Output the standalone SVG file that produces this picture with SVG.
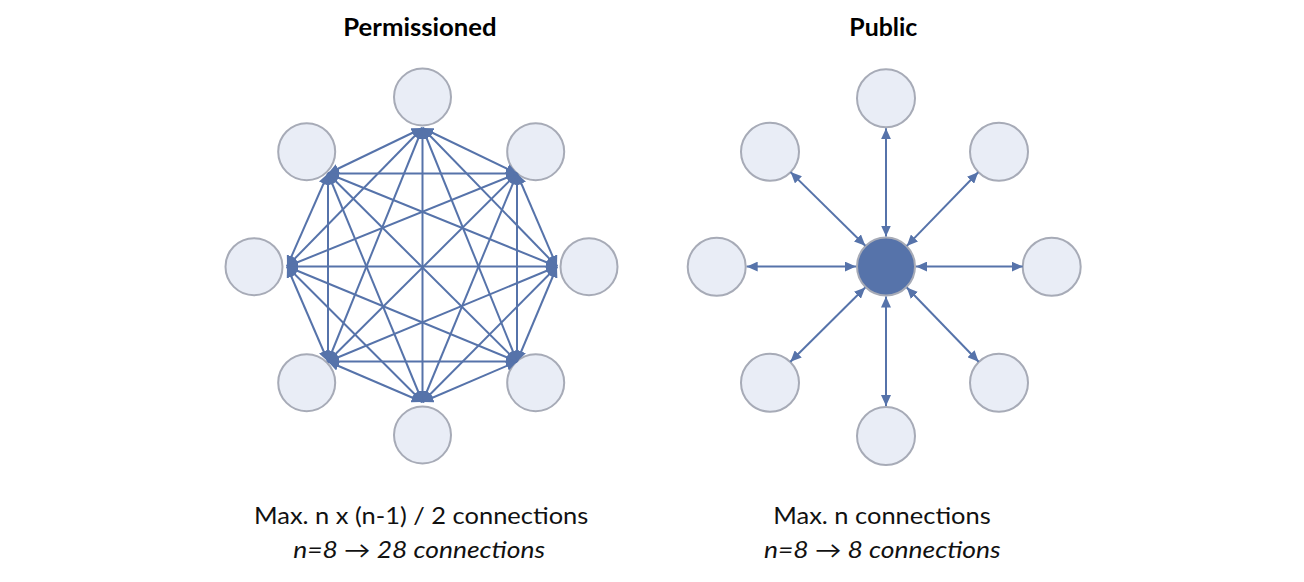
<svg xmlns="http://www.w3.org/2000/svg" width="1304" height="582" viewBox="0 0 1304 582">
<style>
.node{fill:#E9EDF6;stroke:#A7ABB7;stroke-width:2}
.hub{fill:#5673AA;stroke:#A7ABB7;stroke-width:2}
.edge{stroke:#5673AA;stroke-width:2;fill:none;marker-start:url(#ah);marker-end:url(#ah)}
.title{font-family:Lato,"Open Sans",sans-serif;font-weight:bold;font-size:24px;fill:#000}
.cap{font-family:Lato,"Open Sans",sans-serif;font-size:23px;fill:#111}
.it{font-style:italic}
</style>
<defs>
<marker id="ah" viewBox="0 0 11 10" refX="11" refY="5" markerWidth="11" markerHeight="10" markerUnits="userSpaceOnUse" orient="auto-start-reverse">
<path d="M0,0 L11,5 L0,10 z" fill="#5673AA"/>
</marker>
</defs>
<rect width="1304" height="582" fill="#fff"/>

<text class="title" x="343.3" y="36" textLength="153.4" lengthAdjust="spacingAndGlyphs">Permissioned</text>
<text class="title" x="849.3" y="36" textLength="68" lengthAdjust="spacingAndGlyphs">Public</text>

<g id="perm-nodes">
<g id="p0"><circle class="node" cx="422.5" cy="97" r="28.5"/></g>
<g id="p1"><circle class="node" cx="535.7" cy="151.7" r="28.5"/></g>
<g id="p2"><circle class="node" cx="589" cy="266.7" r="28.5"/></g>
<g id="p3"><circle class="node" cx="535.7" cy="382.7" r="28.5"/></g>
<g id="p4"><circle class="node" cx="422.5" cy="435" r="28.5"/></g>
<g id="p5"><circle class="node" cx="306.7" cy="382.7" r="28.5"/></g>
<g id="p6"><circle class="node" cx="254" cy="266.7" r="28.5"/></g>
<g id="p7"><circle class="node" cx="306.7" cy="151.7" r="28.5"/></g>
</g>

<g id="perm-connectors">
<line class="edge" x1="422.5" y1="128" x2="517" y2="173.5"/>
<line class="edge" x1="422.5" y1="128" x2="557" y2="266.5"/>
<line class="edge" x1="422.5" y1="128" x2="517" y2="361.5"/>
<line class="edge" x1="422.5" y1="128" x2="422.5" y2="402"/>
<line class="edge" x1="422.5" y1="128" x2="328" y2="361.5"/>
<line class="edge" x1="422.5" y1="128" x2="287" y2="266.5"/>
<line class="edge" x1="422.5" y1="128" x2="328" y2="173.5"/>
<line class="edge" x1="517" y1="173.5" x2="557" y2="266.5"/>
<line class="edge" x1="517" y1="173.5" x2="517" y2="361.5"/>
<line class="edge" x1="517" y1="173.5" x2="422.5" y2="402"/>
<line class="edge" x1="517" y1="173.5" x2="328" y2="361.5"/>
<line class="edge" x1="517" y1="173.5" x2="287" y2="266.5"/>
<line class="edge" x1="517" y1="173.5" x2="328" y2="173.5"/>
<line class="edge" x1="557" y1="266.5" x2="517" y2="361.5"/>
<line class="edge" x1="557" y1="266.5" x2="422.5" y2="402"/>
<line class="edge" x1="557" y1="266.5" x2="328" y2="361.5"/>
<line class="edge" x1="557" y1="266.5" x2="287" y2="266.5"/>
<line class="edge" x1="557" y1="266.5" x2="328" y2="173.5"/>
<line class="edge" x1="517" y1="361.5" x2="422.5" y2="402"/>
<line class="edge" x1="517" y1="361.5" x2="328" y2="361.5"/>
<line class="edge" x1="517" y1="361.5" x2="287" y2="266.5"/>
<line class="edge" x1="517" y1="361.5" x2="328" y2="173.5"/>
<line class="edge" x1="422.5" y1="402" x2="328" y2="361.5"/>
<line class="edge" x1="422.5" y1="402" x2="287" y2="266.5"/>
<line class="edge" x1="422.5" y1="402" x2="328" y2="173.5"/>
<line class="edge" x1="328" y1="361.5" x2="287" y2="266.5"/>
<line class="edge" x1="328" y1="361.5" x2="328" y2="173.5"/>
<line class="edge" x1="287" y1="266.5" x2="328" y2="173.5"/>
</g>

<g id="pub-nodes">
<g id="hub"><circle class="hub" cx="886" cy="266.5" r="29"/></g>
<g id="q0"><circle class="node" cx="886" cy="98.3" r="29"/></g>
<g id="q1"><circle class="node" cx="999" cy="151.7" r="29"/></g>
<g id="q2"><circle class="node" cx="1051.7" cy="266.7" r="29"/></g>
<g id="q3"><circle class="node" cx="999" cy="382.7" r="29"/></g>
<g id="q4"><circle class="node" cx="886" cy="436" r="29"/></g>
<g id="q5"><circle class="node" cx="770" cy="382.7" r="29"/></g>
<g id="q6"><circle class="node" cx="716.7" cy="266.7" r="29"/></g>
<g id="q7"><circle class="node" cx="770" cy="151.7" r="29"/></g>
</g>

<g id="pub-connectors">
<line class="edge" x1="886" y1="128.3" x2="886" y2="236.5"/>
<line class="edge" x1="978.2" y1="172.3" x2="906.8" y2="245.9"/>
<line class="edge" x1="1022.7" y1="266.6" x2="916" y2="266.6"/>
<line class="edge" x1="978.6" y1="361.7" x2="906.8" y2="287.5"/>
<line class="edge" x1="886" y1="406" x2="886" y2="296.5"/>
<line class="edge" x1="790.4" y1="361.7" x2="865.2" y2="287.5"/>
<line class="edge" x1="746.7" y1="266.6" x2="856" y2="266.6"/>
<line class="edge" x1="790.6" y1="172.1" x2="865.3" y2="245.7"/>
</g>

<text class="cap" x="254" y="524.3" textLength="334.3" lengthAdjust="spacingAndGlyphs">Max. n x (n-1) / 2 connections</text>
<text class="cap it" x="293.3" y="558.3" textLength="251.7" lengthAdjust="spacingAndGlyphs">n=8 → 28 connections</text>
<text class="cap" x="773.3" y="523.5" textLength="217.4" lengthAdjust="spacingAndGlyphs">Max. n connections</text>
<text class="cap it" x="764" y="557.8" textLength="236.7" lengthAdjust="spacingAndGlyphs">n=8 → 8 connections</text>
</svg>
